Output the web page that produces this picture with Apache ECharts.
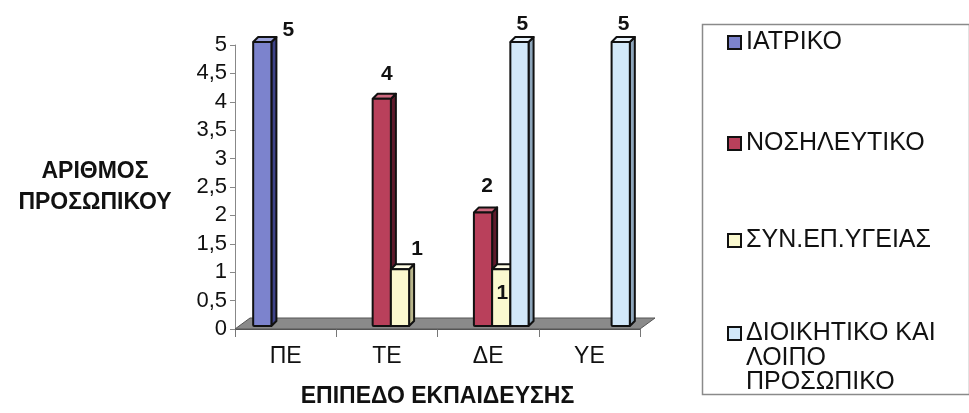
<!DOCTYPE html>
<html>
<head>
<meta charset="utf-8">
<script src="https://cdn.jsdelivr.net/npm/echarts@6/dist/echarts.min.js"></script>
<style>
html,body{margin:0;padding:0;background:#fff;}
#chart{width:969px;height:413px;}
</style>
</head>
<body>
<div id="chart"></div>
<script>
// ---- data ----
var categories = ['ΠΕ', 'ΤΕ', 'ΔΕ', 'ΥΕ'];
var seriesNames = ['ΙΑΤΡΙΚΟ', 'ΝΟΣΗΛΕΥΤΙΚΟ', 'ΣΥΝ.ΕΠ.ΥΓΕΙΑΣ', 'ΔΙΟΙΚΗΤΙΚΟ ΚΑΙ ΛΟΙΠΟ ΠΡΟΣΩΠΙΚΟ'];
var iatriko = [5, null, null, null];
var nosileftiko = [null, 4, 2, null];
var synEpYgeias = [null, 1, 1, null];
var dioikitiko = [null, null, 5, 5];
var yTicks = { min: 0, max: 5, interval: 0.5 };

// ---- styles ----
var FONT = '"Liberation Sans", Arial, sans-serif';
var seriesValues = [iatriko, nosileftiko, synEpYgeias, dioikitiko];
var frontColors = ['#7c83cd', '#b9405b', '#fbf9cf', '#d2e8f9'];
var sideColors = ['#3d4288', '#5e1a2b', '#b9b68c', '#8ea6bb'];
var topColors = ['#9da3dc', '#cf6a80', '#fffde6', '#eaf4fc'];
// label offsets relative to (front-face centre, front-face top), keyed "series-category"
var labelOffsets = {
  '0-0': [26, -12], '1-1': [5, -25], '2-1': [17, -20],
  '1-2': [4, -26], '2-2': [1, 24], '3-2': [3, -18], '3-3': [3, -18]
};
var DEPTH = 5, SHIFT_X = 4, SHIFT_Y = -3, BAR_FRAC = 0.18;

function makeBarSeries(sIdx) {
  var data = seriesValues[sIdx].map(function (v, i) { return [i, v]; });
  return {
    type: 'custom',
    name: seriesNames[sIdx],
    itemStyle: { color: frontColors[sIdx] },
    z: 3,
    data: data,
    renderItem: function (params, api) {
      var val = api.value(1);
      if (val == null || isNaN(val)) return null;
      var cat = api.value(0);
      var base = api.coord([cat, 0]);
      var top = api.coord([cat, val]);
      var bandW = api.size([1, 0])[0];
      var bw = bandW * BAR_FRAC;
      var x = base[0] - bw * 2 + sIdx * bw + SHIFT_X;
      var yT = top[1] + SHIFT_Y;
      var yB = base[1] + SHIFT_Y;
      var d = DEPTH;
      var off = labelOffsets[sIdx + '-' + cat] || [0, -16];
      var lineStyle = { stroke: '#111', lineWidth: 2, lineJoin: 'round' };
      return {
        type: 'group',
        children: [
          { type: 'polygon', shape: { points: [[x + bw, yT], [x + bw + d, yT - d], [x + bw + d, yB - d], [x + bw, yB]] },
            style: Object.assign({ fill: sideColors[sIdx] }, lineStyle) },
          { type: 'polygon', shape: { points: [[x, yT], [x + d, yT - d], [x + bw + d, yT - d], [x + bw, yT]] },
            style: Object.assign({ fill: topColors[sIdx] }, lineStyle) },
          { type: 'rect', shape: { x: x, y: yT, width: bw, height: yB - yT, r: 1 },
            style: Object.assign({ fill: frontColors[sIdx] }, lineStyle) },
          { type: 'text', z2: 10,
            style: { text: String(val), x: x + bw / 2 + off[0], y: yT + off[1],
              align: 'center', verticalAlign: 'middle',
              fontSize: 21, fontWeight: 'bold', fontFamily: FONT, fill: '#111' } }
        ]
      };
    }
  };
}

var floorSeries = {
  type: 'custom',
  name: 'floor',
  silent: true,
  z: 1,
  data: [[0, 0]],
  renderItem: function (params, api) {
    var cs = params.coordSys;
    var y0 = api.coord([0, 0])[1];
    var x0 = cs.x, x1 = cs.x + cs.width;
    var dx = 15, dy = 11;
    return {
      type: 'polygon',
      shape: { points: [[x0, y0], [x1, y0], [x1 + dx, y0 - dy], [x0 + dx, y0 - dy]] },
      style: { fill: '#8a8a8a', stroke: '#555', lineWidth: 1 }
    };
  }
};

var series = [floorSeries];
for (var s = 0; s < seriesNames.length; s++) series.push(makeBarSeries(s));

var legendFont = { fontFamily: FONT, fontSize: 25, color: '#111', lineHeight: 24.5 };
var legendTops = [30, 131, 228, 272];
var legends = seriesNames.map(function (n, i) {
  return {
    data: [n],
    left: 727, top: legendTops[i], padding: 0,
    orient: 'vertical',
    icon: 'rect', itemWidth: 13, itemHeight: 13, itemGap: 0,
    itemStyle: { borderColor: '#111', borderWidth: 2 },
    textStyle: legendFont,
    selectedMode: false,
    formatter: function (name) {
      if (name === seriesNames[3]) return '\n\nΔΙΟΙΚΗΤΙΚΟ ΚΑΙ\nΛΟΙΠΟ\nΠΡΟΣΩΠΙΚΟ';
      return name;
    }
  };
});

var chart = echarts.init(document.getElementById('chart'), null, { renderer: 'canvas' });
chart.setOption({
  animation: false,
  backgroundColor: '#ffffff',
  grid: { left: 235, right: 329, top: 45, bottom: 78, containLabel: false },
  legend: legends,
  graphic: [{
    type: 'rect', left: 700, top: 22, silent: true,
    shape: { width: 267, height: 370 },
    style: { fill: 'none', stroke: '#8a8a8a', lineWidth: 1.5 }
  }],
  xAxis: {
    type: 'category',
    data: categories,
    boundaryGap: true,
    axisLine: { show: true, lineStyle: { color: '#555', width: 1 } },
    axisTick: { show: true, length: 8, lineStyle: { color: '#777' } },
    axisLabel: { margin: 16, fontSize: 23, color: '#111', fontFamily: FONT },
    name: 'ΕΠΙΠΕΔΟ ΕΚΠΑΙΔΕΥΣΗΣ',
    nameLocation: 'middle',
    nameGap: 56,
    nameTextStyle: { fontSize: 23, fontWeight: 'bold', color: '#111', fontFamily: FONT }
  },
  yAxis: {
    type: 'value',
    min: yTicks.min, max: yTicks.max, interval: yTicks.interval,
    axisLine: { show: true, lineStyle: { color: '#888', width: 1 } },
    axisTick: { show: true, length: 5, lineStyle: { color: '#888' } },
    splitLine: { show: false },
    axisLabel: {
      margin: 8, fontSize: 22, color: '#111', fontFamily: FONT,
      formatter: function (v) { return String(v).replace('.', ','); }
    },
    name: 'ΑΡΙΘΜΟΣ\nΠΡΟΣΩΠΙΚΟΥ',
    nameLocation: 'middle',
    nameRotate: 0,
    nameGap: 140,
    nameTextStyle: { fontSize: 23, fontWeight: 'bold', color: '#111', align: 'center', verticalAlign: 'middle',
      lineHeight: 31, fontFamily: FONT }
  },
  series: series
});
</script>
</body>
</html>
